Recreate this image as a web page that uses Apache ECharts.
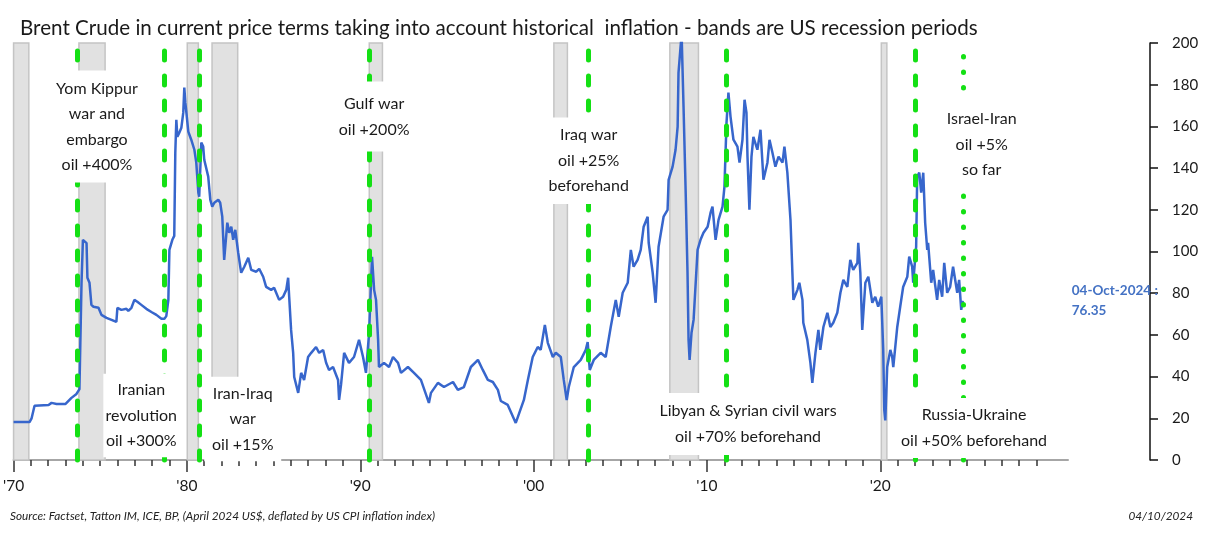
<!DOCTYPE html>
<html>
<head>
<meta charset="utf-8">
<script src="https://cdn.jsdelivr.net/npm/echarts@6/dist/echarts.min.js"></script>
<style>
html,body{margin:0;padding:0;background:#fff;}
#chart{width:1205px;height:550px;}
</style>
</head>
<body>
<div id="chart"></div>
<script>
// ---- DATA ----
const titleText = 'Brent Crude in current price terms taking into account historical  inflation - bands are US recession periods';
const sourceText = 'Source: Factset, Tatton IM, ICE, BP, (April 2024 US$, deflated by US CPI inflation index)';
const dateText = '04/10/2024';
const lastDateLabel = '04-Oct-2024';

const years = [1970.00,1970.92,1971.04,1971.21,1972.02,1972.19,1972.48,1973.00,1973.34,1973.63,1973.80,1973.92,1974.00,1974.09,1974.21,1974.26,1974.38,1974.49,1974.61,1974.90,1975.07,1975.36,1975.65,1975.93,1975.99,1976.22,1976.51,1976.62,1976.80,1976.97,1977.14,1977.37,1977.66,1977.95,1978.24,1978.53,1978.70,1978.81,1978.93,1978.99,1979.16,1979.27,1979.33,1979.39,1979.45,1979.56,1979.68,1979.79,1979.85,1979.91,1979.97,1980.08,1980.25,1980.43,1980.54,1980.66,1980.71,1980.83,1980.94,1981.00,1981.23,1981.35,1981.46,1981.58,1981.81,1981.92,1982.04,1982.15,1982.33,1982.44,1982.56,1982.67,1982.79,1982.96,1983.13,1983.31,1983.54,1983.71,1984.00,1984.17,1984.40,1984.57,1984.86,1985.03,1985.15,1985.32,1985.55,1985.73,1985.84,1985.90,1986.01,1986.13,1986.19,1986.42,1986.59,1986.76,1986.99,1987.17,1987.45,1987.63,1987.86,1988.03,1988.20,1988.43,1988.72,1988.78,1988.89,1989.07,1989.35,1989.64,1989.93,1990.16,1990.33,1990.51,1990.68,1990.80,1990.91,1991.03,1991.08,1991.37,1991.66,1991.89,1992.18,1992.35,1992.75,1993.10,1993.50,1993.96,1994.08,1994.48,1994.83,1995.35,1995.63,1995.98,1996.38,1996.79,1997.07,1997.36,1997.65,1997.94,1998.11,1998.51,1998.97,1999.09,1999.44,1999.67,1999.95,2000.24,2000.41,2000.65,2000.82,2001.11,2001.28,2001.57,2001.74,2001.91,2002.03,2002.32,2002.72,2003.01,2003.12,2003.24,2003.47,2003.87,2004.16,2004.45,2004.74,2004.91,2005.14,2005.43,2005.61,2005.77,2006.00,2006.18,2006.35,2006.58,2006.64,2006.87,2007.04,2007.21,2007.50,2007.73,2007.79,2008.02,2008.19,2008.31,2008.36,2008.48,2008.54,2008.65,2008.77,2008.88,2008.94,2009.00,2009.11,2009.23,2009.46,2009.63,2009.80,2010.04,2010.21,2010.32,2010.50,2010.67,2010.90,2011.01,2011.13,2011.24,2011.36,2011.53,2011.76,2011.88,2012.05,2012.17,2012.28,2012.34,2012.45,2012.57,2012.68,2012.91,2013.09,2013.26,2013.49,2013.61,2013.78,2013.95,2014.13,2014.36,2014.47,2014.64,2014.82,2014.93,2014.99,2015.22,2015.33,2015.51,2015.56,2015.79,2015.97,2016.08,2016.26,2016.43,2016.54,2016.72,2016.95,2017.12,2017.29,2017.52,2017.70,2017.87,2018.10,2018.27,2018.44,2018.68,2018.73,2018.85,2018.96,2019.14,2019.31,2019.54,2019.71,2019.88,2020.06,2020.17,2020.23,2020.29,2020.40,2020.58,2020.69,2020.75,2020.98,2021.15,2021.32,2021.56,2021.67,2021.84,2021.90,2022.07,2022.13,2022.25,2022.36,2022.48,2022.59,2022.71,2022.76,2022.94,2023.05,2023.28,2023.40,2023.57,2023.69,2023.86,2024.03,2024.20,2024.44,2024.55,2024.67,2024.76];
const prices = [18.2,18.2,20,26,26.4,27.4,26.9,26.9,29.8,31.7,34,85,105.6,104.7,104,87.4,85,74.4,73.5,73,69.6,68.2,67.2,66.2,73,72,72.5,71.5,73,76.8,75.9,74.4,72.5,71,69.6,67.7,67.7,69,76.8,100.8,105.6,107.5,147.4,163.2,155,157,159.4,166.6,178.6,171.4,166.6,157.5,153.6,148.8,142.6,128.2,126.3,152.2,150.3,144,135.9,124.8,121.5,123.4,124.8,123.4,116.7,96,113.8,109,111.9,105.6,110.4,99.4,89.8,92.7,97,91.2,90.3,91.7,87.9,83,81.6,82.6,80.2,76.8,78.3,81.6,87.4,78.3,62.4,51.4,39.8,32.2,41.8,38.4,49.4,51.4,54.2,51.4,52.8,46.6,43.2,44.6,38.4,28.8,36,51.4,46.6,49.4,57.6,49.4,41.8,61,97.5,81.6,76.8,57.6,44.6,46.6,44.6,49.4,46.6,41.8,44.6,41.8,38.4,27.4,32.2,37,35,37.4,33.6,35,44.6,48,43.2,38.4,37.4,33.6,28.3,26.4,17.8,20.6,28.8,38.4,49.4,54.2,52.8,64.8,56.2,49.4,51.4,49.4,38.4,28.8,35,44.6,48,52.8,56.6,43.2,48,51.4,49.4,63.8,76.8,68.7,80.2,85,100.8,92.7,96,100.8,111.9,116.7,104.2,89.8,75.4,102.3,116.7,120,134.4,140.7,148.8,159.9,185.8,198.3,204,169.5,129.6,89.8,57.6,48,61,67.2,100.8,105.6,109,111.9,118.6,121.5,105.6,115.2,121.5,131,161.8,176.2,164.7,153.6,150.3,142.6,153.6,172.8,166.6,145.5,120,145.5,155,148.8,158.4,134.4,142.6,153.6,147.4,140.7,145.5,142.6,150.3,137.8,115.2,89.8,76.8,81.6,85,76.8,65.8,57.6,46.6,37,51.4,62.4,52.8,63.8,70.6,63.8,65.8,70.6,80.2,86.4,83,96,91.2,94.6,104.2,89.8,62.4,85,87.9,75.4,78.3,73.5,78.3,52.8,24,19,44.6,52.8,49.4,44.6,63.8,73.5,83,87.9,97.5,92.7,85,102.3,135.9,137.8,128.2,137.8,113.8,100.8,104.2,85,91.2,76.8,86.4,78.3,94.6,80.2,83,92.7,80.2,86.4,72,76.35];

// US recession periods (start, end), decimal years
const recessionStarts = [1970.00, 1973.77, 1980.02, 1981.45, 1990.52, 2001.17, 2007.86, 2020.06];
const recessionEnds   = [1970.88, 1975.28, 1980.66, 1982.93, 1991.28, 2001.95, 2009.51, 2020.38];

// Event dates (green lines)
const eventYears = [1973.70, 1978.72, 1980.70, 1990.52, 2003.14, 2011.09, 2022.03];
const currentEventYear = 2024.76;

const annotationTexts = [
  'Yom Kippur\nwar and\nembargo\noil +400%',
  'Iranian\nrevolution\noil +300%',
  'Iran-Iraq\nwar\noil +15%',
  'Gulf war\noil +200%',
  'Iraq war\noil +25%\nbeforehand',
  'Libyan & Syrian civil wars\noil +70% beforehand',
  'Russia-Ukraine\noil +50% beforehand',
  'Israel-Iran\noil +5%\nso far'
];

const xTickYears = [1970, 1980, 1990, 2000, 2010, 2020];

// ---- LAYOUT (anchor of each annotation box in axis units, box width and vertical padding in px) ----
const annLayout = [
  {at: [1974.81, 159.9], w: 90, pv: 5},
  {at: [1977.37, 21.4], w: 76, pv: 3.5},
  {at: [1983.22, 19.7], w: 77, pv: 4},
  {at: [1990.80, 164.7], w: 80, pv: 9.5},
  {at: [2003.18, 143.5], w: 92, pv: 5},
  {at: [2012.37, 17.3], w: 183, pv: 5.5},
  {at: [2025.41, 15.4], w: 154, pv: 4.5},
  {at: [2025.85, 151.2], w: 84, pv: 6.5}
];

const FONT = "Lato, 'Liberation Sans', sans-serif";
const minorTicks = [];
for (let y = 1971; y <= 2029; y++) { if (y % 10 !== 0) minorTicks.push(y); }

const lineData = years.map((y, i) => [y, prices[i]]);
const lastIdx = years.length - 1;

const chart = echarts.init(document.getElementById('chart'), null, {renderer: 'canvas'});

const option = {
  animation: false,
  backgroundColor: '#ffffff',
  title: {
    text: titleText,
    left: 15,
    top: 13,
    textStyle: {fontFamily: FONT, fontSize: 20.6, fontWeight: 'normal', color: '#1a1a1a'}
  },
  grid: [
    {left: 12, right: 137, top: 43, bottom: 90},
    {left: 1150, right: 47, top: 43, bottom: 90}
  ],
  xAxis: [
    {
      type: 'value', gridIndex: 0, min: 1970, max: 2030.83, position: 'bottom',
      axisLine: {show: true, lineStyle: {color: '#a6a6a6', width: 2}},
      axisTick: {show: true, customValues: xTickYears, length: 12, lineStyle: {color: '#333', width: 1.5}},
      axisLabel: {show: true, customValues: xTickYears, margin: 18, fontFamily: FONT, fontSize: 15.5, color: '#1a1a1a',
        formatter: v => "'" + String(Math.round(v)).slice(2)},
      splitLine: {show: false}
    },
    {
      type: 'value', gridIndex: 0, min: 1970, max: 2030.83, position: 'bottom',
      axisLine: {show: false},
      axisTick: {show: true, customValues: minorTicks, length: 6, lineStyle: {color: '#333', width: 1.5}},
      axisLabel: {show: false},
      splitLine: {show: false}
    },
    {type: 'value', gridIndex: 1, min: 0, max: 1, show: false}
  ],
  yAxis: [
    {type: 'value', gridIndex: 0, min: 0, max: 200, show: false},
    {
      type: 'value', gridIndex: 1, min: 0, max: 200, interval: 20, position: 'right',
      axisLine: {show: true, lineStyle: {color: '#111', width: 1.5}},
      axisTick: {show: true, length: 8, lineStyle: {color: '#111', width: 1.5}},
      axisLabel: {margin: 14, fontFamily: FONT, fontSize: 15, color: '#1a1a1a'},
      splitLine: {show: false}
    }
  ],
  series: [
    {
      name: 'recessions', type: 'line', xAxisIndex: 0, yAxisIndex: 0, data: [], silent: true,
      markArea: {
        silent: true,
        itemStyle: {color: '#e1e1e1', borderColor: '#c4c4c4', borderWidth: 1.5},
        data: recessionStarts.map((s, i) => [{xAxis: s}, {xAxis: recessionEnds[i]}])
      }
    },
    {
      name: 'Brent real', type: 'line', xAxisIndex: 0, yAxisIndex: 0, z: 3,
      data: lineData, showSymbol: false, symbol: 'none', clip: true,
      lineStyle: {color: '#3766cc', width: 2.5},
      markPoint: {
        symbol: 'circle', symbolSize: 0,
        data: [{coord: [years[lastIdx], prices[lastIdx]], value: prices[lastIdx]}],
        label: {
          show: true, position: 'right', distance: 109, align: 'left',
          formatter: () => lastDateLabel + ' :\n' + prices[lastIdx].toFixed(2),
          fontFamily: FONT, fontSize: 13.5, fontWeight: 'bold', color: '#4472c4', lineHeight: 20
        }
      }
    },
    {
      name: 'events', type: 'line', xAxisIndex: 0, yAxisIndex: 0, data: [], silent: true, z: 5,
      markLine: {
        silent: true, symbol: ['none', 'none'], label: {show: false},
        data: eventYears.map(y => ({xAxis: y, lineStyle: {color: '#14e014', width: 5, type: [9, 16], cap: 'round'}}))
          .concat([{xAxis: currentEventYear, lineStyle: {color: '#14e014', width: 5, type: [0.5, 15], cap: 'round'}}])
      }
    },
    {
      name: 'annotations', type: 'scatter', xAxisIndex: 0, yAxisIndex: 0, z: 10, silent: true,
      symbolSize: 0, itemStyle: {opacity: 1},
      data: annotationTexts.map((t, i) => ({
        value: annLayout[i].at,
        itemStyle: {opacity: 1},
        label: {
          show: true, position: 'inside', formatter: t, align: 'center', verticalAlign: 'middle',
          width: annLayout[i].w, overflow: 'none',
          fontFamily: FONT, fontSize: 16, lineHeight: 25.5, color: '#1a1a1a', opacity: 1,
          backgroundColor: '#ffffff', padding: [annLayout[i].pv, 0, annLayout[i].pv, 0]
        }
      }))
    }
  ],
  graphic: [
    {type: 'text', left: 10, top: 510, z: 100,
      style: {text: sourceText, font: "italic 11.8px " + FONT, fill: '#222'}},
    {type: 'text', right: 12, top: 510, z: 100,
      style: {text: dateText, font: "italic 11.8px " + FONT, fill: '#222'}}
  ]
};
chart.setOption(option);
</script>
</body>
</html>
